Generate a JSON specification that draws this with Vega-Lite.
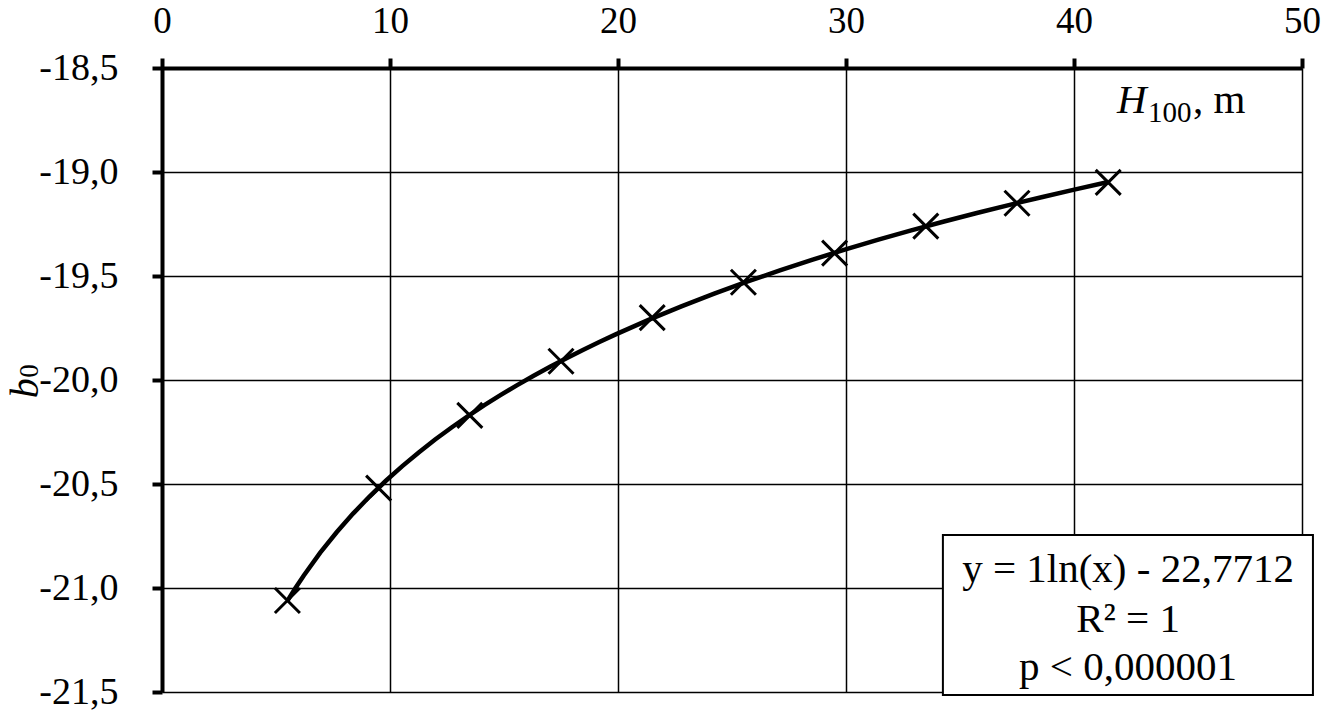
{
  "$schema": "https://vega.github.io/schema/vega-lite/v6.json",
  "width": 1140,
  "height": 624,
  "autosize": {"type": "none"},
  "padding": {"left": 162, "top": 68, "right": 22, "bottom": 21},
  "background": "white",
  "config": {
    "view": {"stroke": null},
    "font": "Liberation Serif",
    "axis": {
      "labelFont": "Liberation Serif",
      "labelColor": "black",
      "labelFontSize": 38,
      "labelFlush": false,
      "labelOverlap": false,
      "gridColor": "black",
      "gridOpacity": 1,
      "gridWidth": 1.5,
      "domainColor": "black",
      "domainWidth": 4,
      "tickColor": "black",
      "tickWidth": 4,
      "tickSize": 10
    }
  },
  "data": {
    "values": [
      {"H": 5.5, "b0": -21.06},
      {"H": 9.5, "b0": -20.52},
      {"H": 13.5, "b0": -20.17},
      {"H": 17.5, "b0": -19.91},
      {"H": 21.5, "b0": -19.70},
      {"H": 25.5, "b0": -19.53},
      {"H": 29.5, "b0": -19.39},
      {"H": 33.5, "b0": -19.26},
      {"H": 37.5, "b0": -19.15},
      {"H": 41.5, "b0": -19.05}
    ]
  },
  "layer": [
    {
      "transform": [{"regression": "b0", "on": "H", "method": "log"}],
      "mark": {"type": "line", "color": "black", "strokeWidth": 4.5},
      "encoding": {
        "x": {
          "field": "H", "type": "quantitative", "title": null,
          "scale": {"domain": [0, 50], "nice": false, "zero": false},
          "axis": {
            "orient": "top", "title": null,
            "values": [0, 10, 20, 30, 40, 50],
            "labelPadding": 18,
            "labelFontSize": 37,
            "grid": true
          }
        },
        "y": {
          "field": "b0", "type": "quantitative", "title": null,
          "scale": {"domain": [-21.5, -18.5], "nice": false, "zero": false},
          "axis": {
            "title": null,
            "values": [-21.5, -21, -20.5, -20, -19.5, -19, -18.5],
            "labelExpr": "replace(replace(format(datum.value, '.1f'), '.', ','), '\u2212', '-')",
            "labelPadding": 34,
            "grid": true
          }
        }
      }
    },
    {
      "mark": {"type": "point", "shape": "M-1,-1L1,1M-1,1L1,-1", "size": 625, "stroke": "black", "strokeWidth": 3, "filled": false, "opacity": 1},
      "encoding": {
        "x": {"field": "H", "type": "quantitative", "title": null},
        "y": {"field": "b0", "type": "quantitative", "title": null}
      }
    },
    {
      "data": {"values": [{}]},
      "mark": {"type": "rect", "fill": "white", "stroke": "black", "strokeWidth": 2},
      "encoding": {
        "x": {"datum": 34.25, "type": "quantitative", "title": null},
        "x2": {"datum": 50.48},
        "y": {"datum": -20.745, "type": "quantitative", "title": null},
        "y2": {"datum": -21.514}
      }
    },
    {
      "data": {"values": [{}]},
      "mark": {"type": "text", "text": "y = 1ln(x) - 22,7712", "fontSize": 41, "align": "center", "baseline": "alphabetic", "color": "black"},
      "encoding": {
        "x": {"datum": 42.37, "type": "quantitative", "title": null},
        "y": {"datum": -20.971, "type": "quantitative", "title": null}
      }
    },
    {
      "data": {"values": [{}]},
      "mark": {"type": "text", "text": "R² = 1", "fontSize": 41, "align": "center", "baseline": "alphabetic", "color": "black"},
      "encoding": {
        "x": {"datum": 42.37, "type": "quantitative", "title": null},
        "y": {"datum": -21.212, "type": "quantitative", "title": null}
      }
    },
    {
      "data": {"values": [{}]},
      "mark": {"type": "text", "text": "p < 0,000001", "fontSize": 41, "align": "center", "baseline": "alphabetic", "color": "black"},
      "encoding": {
        "x": {"datum": 42.37, "type": "quantitative", "title": null},
        "y": {"datum": -21.442, "type": "quantitative", "title": null}
      }
    },
    {
      "data": {"values": [{}]},
      "mark": {"type": "text", "text": "H", "fontSize": 41, "fontStyle": "italic", "align": "left", "baseline": "alphabetic", "color": "black"},
      "encoding": {
        "x": {"datum": 41.89, "type": "quantitative", "title": null},
        "y": {"datum": -18.716, "type": "quantitative", "title": null}
      }
    },
    {
      "data": {"values": [{}]},
      "mark": {"type": "text", "text": "100", "fontSize": 29, "align": "left", "baseline": "alphabetic", "color": "black"},
      "encoding": {
        "x": {"datum": 43.25, "type": "quantitative", "title": null},
        "y": {"datum": -18.76, "type": "quantitative", "title": null}
      }
    },
    {
      "data": {"values": [{}]},
      "mark": {"type": "text", "text": ", m", "fontSize": 41, "align": "left", "baseline": "alphabetic", "color": "black"},
      "encoding": {
        "x": {"datum": 45.22, "type": "quantitative", "title": null},
        "y": {"datum": -18.716, "type": "quantitative", "title": null}
      }
    },
    {
      "data": {"values": [{}]},
      "mark": {"type": "text", "text": "b", "fontSize": 40, "fontStyle": "italic", "align": "center", "baseline": "alphabetic", "angle": 270, "color": "black"},
      "encoding": {
        "x": {"datum": -5.45, "type": "quantitative", "title": null},
        "y": {"datum": -20.04, "type": "quantitative", "title": null}
      }
    },
    {
      "data": {"values": [{}]},
      "mark": {"type": "text", "text": "0", "fontSize": 27, "align": "center", "baseline": "alphabetic", "angle": 270, "color": "black"},
      "encoding": {
        "x": {"datum": -5.45, "type": "quantitative", "title": null},
        "y": {"datum": -19.957, "type": "quantitative", "title": null}
      }
    }
  ]
}
